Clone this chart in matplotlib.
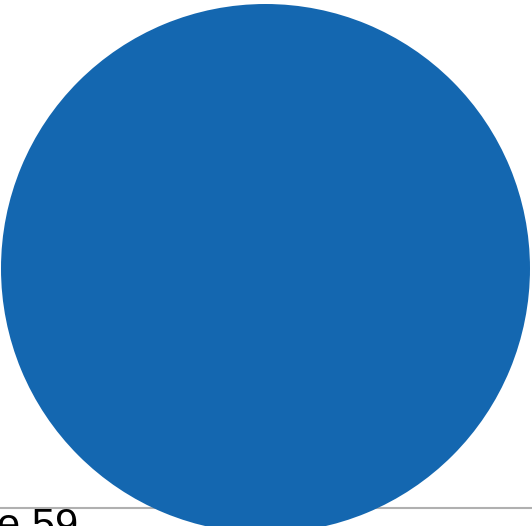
import matplotlib.pyplot as plt

# Datos
values = [59]
labels = ['e 59']
colors = ['#1467b0']

fig = plt.figure(figsize=(5.32, 5.26), dpi=100)
ax = fig.add_axes([0, 0, 1, 1])

# Linea base gris
ax.axhline(508, color='#b0b0b0', linewidth=1.5, zorder=1)

# Pie de una sola porcion
ax.pie(values, colors=colors, center=(265.5, 268.5), radius=264.5,
       startangle=90, frame=True,
       wedgeprops={'linewidth': 0, 'zorder': 2})
ax.set_xlim(0, 532)
ax.set_ylim(526, 0)
ax.set_aspect('equal')
ax.axis('off')

# Etiqueta recortada
ax.text(-3, 538, labels[0], fontsize=30, family='Liberation Sans',
        color='black', va='baseline', ha='left', zorder=3)

plt.savefig('out.png', dpi=100)
